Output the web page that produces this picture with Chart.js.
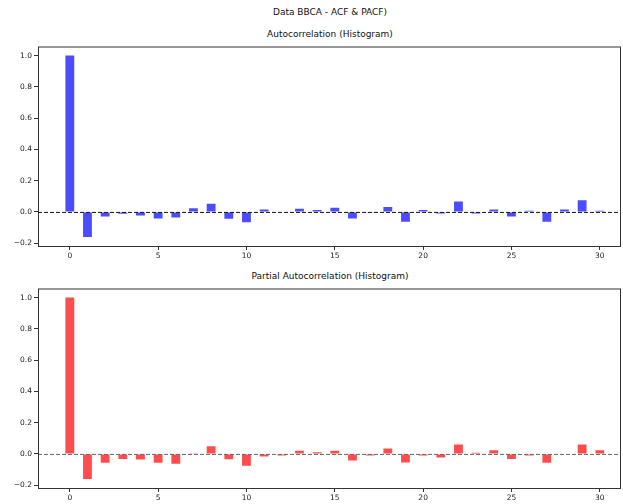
<!DOCTYPE html>
<html>
<head>
<meta charset="utf-8">
<script src="https://cdn.jsdelivr.net/npm/chart.js@4.4.1/dist/chart.umd.min.js"></script>
<style>
  html, body { margin:0; padding:0; width:623px; height:504px; overflow:hidden; background:#fff; }
  .t { position:absolute; left:0; width:660px; text-align:center; font-family:"DejaVu Sans"; font-size:9px; color:#111; }
  canvas { position:absolute; left:0; }
</style>
</head>
<body>
<div class="t" style="top:7px;">Data BBCA - ACF &amp; PACF)</div>
<div class="t" style="top:29px;">Autocorrelation (Histogram)</div>
<div class="t" style="top:271px;">Partial Autocorrelation (Histogram)</div>
<div style="position:absolute;left:0;top:40px;width:623px;height:226px;"><canvas id="c1"></canvas></div>
<div style="position:absolute;left:0;top:282px;width:623px;height:222px;"><canvas id="c2"></canvas></div>
<script>
const lags = [0,1,2,3,4,5,6,7,8,9,10,11,12,13,14,15,16,17,18,19,20,21,22,23,24,25,26,27,28,29,30];
const acfValues = [1.0,-0.16,-0.03,-0.012,-0.023,-0.042,-0.036,0.023,0.053,-0.044,-0.066,0.015,-0.003,0.021,0.013,0.027,-0.042,-0.002,0.032,-0.063,0.013,-0.01,0.067,-0.01,0.015,-0.03,0.008,-0.063,0.015,0.074,0.008];
const pacfValues = [1.0,-0.16,-0.057,-0.032,-0.036,-0.057,-0.063,0.004,0.049,-0.034,-0.076,-0.017,-0.01,0.021,0.011,0.021,-0.042,-0.01,0.034,-0.055,-0.01,-0.023,0.061,0.008,0.023,-0.032,-0.01,-0.057,0.002,0.061,0.023];
const xTickValues = [0,5,10,15,20,25,30];
const yTickValues = [-0.2,0.0,0.2,0.4,0.6,0.8,1.0];

const framePlugin = {
  id: 'frame',
  afterDatasetsDraw(chart, args, opts) {
    const {ctx, chartArea:a, scales} = chart;
    const y0 = scales.y.getPixelForValue(0);
    ctx.save();
    ctx.strokeStyle = opts.zeroColor;
    ctx.lineWidth = 1;
    ctx.setLineDash([4,2]);
    ctx.beginPath();
    ctx.moveTo(a.left, y0 + 0.5);
    ctx.lineTo(a.right, y0 + 0.5);
    ctx.stroke();
    ctx.setLineDash([]);
    ctx.strokeStyle = '#333';
    ctx.lineWidth = 1;
    ctx.strokeRect(a.left + 0.5, a.top + 0.5, a.right - a.left - 1, a.bottom - a.top);
    ctx.restore();
  }
};

function makeChart(id, values, color, zeroColor, xHeight) {
  return new Chart(document.getElementById(id), {
    type: 'bar',
    data: {
      datasets: [{
        data: lags.map((l, i) => ({x: l, y: values[i]})),
        backgroundColor: color,
        borderWidth: 0,
        barPercentage: 0.5,
        categoryPercentage: 1.0
      }]
    },
    options: {
      responsive: true,
      maintainAspectRatio: false,
      animation: false,
      layout: { padding: { top: 4, right: 2, left: 0, bottom: 0 } },
      plugins: { legend: { display: false }, tooltip: { enabled: false }, frame: { zeroColor } },
      scales: {
        x: {
          type: 'linear', min: -1.8, max: 31.2, offset: false, bounds: 'ticks',
          afterDataLimits: s => { s.min = -1.8; s.max = 31.2; },
          afterBuildTicks: s => { s.ticks = xTickValues.map(v => ({value: v})); },
          afterFit: s => { s.height = xHeight; },
          grid: { offset: false, drawOnChartArea: false, drawTicks: true, tickLength: 4, color: '#333' },
          border: { display: false },
          ticks: { padding: 2, color: '#222', font: { family: 'DejaVu Sans', size: 7.5 }, maxRotation: 0, callback: v => String(v) }
        },
        y: {
          min: -0.218, max: 1.058,
          afterBuildTicks: s => { s.ticks = yTickValues.map(v => ({value: v})); },
          afterFit: s => { s.width = 38; },
          grid: { drawOnChartArea: false, drawTicks: true, tickLength: 4, color: '#333' },
          border: { display: false },
          ticks: { padding: 2, color: '#222', font: { family: 'DejaVu Sans', size: 7.5 }, callback: v => (v < 0 ? '\u2212' : '') + Math.abs(v).toFixed(1) }
        }
      }
    },
    plugins: [framePlugin]
  });
}

makeChart('c1', acfValues, 'rgba(0,0,255,0.7)', '#111', 20);
makeChart('c2', pacfValues, 'rgba(255,0,0,0.7)', '#666', 16);
</script>
</body>
</html>
